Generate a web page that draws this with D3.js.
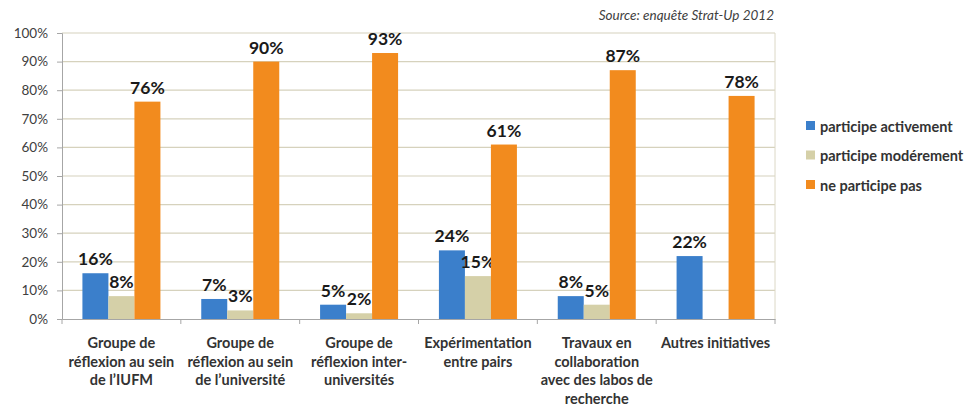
<!DOCTYPE html>
<html><head><meta charset="utf-8">
<script src="https://cdn.jsdelivr.net/npm/d3@7"></script>
<style>
body{margin:0;background:#fff;}
text{font-family:Lato,"Open Sans",sans-serif;}
</style></head>
<body><svg id="c" width="970" height="407"></svg>
<script>
const categories = [
  ["Groupe de","réflexion au sein","de l’IUFM"],
  ["Groupe de","réflexion au sein","de l’université"],
  ["Groupe de","réflexion inter-","universités"],
  ["Expérimentation","entre pairs"],
  ["Travaux en","collaboration","avec des labos de","recherche"],
  ["Autres initiatives"]
];
const seriesNames = ["participe activement","participe modérement","ne participe pas"];
const activement = [16, 7, 5, 24, 8, 22];
const moderement = [8, 3, 2, 15, 5, null];
const pasParticipe = [76, 90, 93, 61, 87, 78];
const yTicks = [0,10,20,30,40,50,60,70,80,90,100];
const colors = ["#3b7fcb","#d5d0a8","#f28b1e"];
const source = "Source: enquête Strat-Up 2012";

const series = [activement, moderement, pasParticipe];
const svg = d3.select("#c");
const m = {l:62, r:775, t:33, b:319};

const x = d3.scaleBand().domain(d3.range(categories.length)).range([m.l, m.r]).paddingInner(0).paddingOuter(0);
const bw = 26;
const x1 = d3.scaleBand().domain([0,1,2]).range([0, bw*3]);
const y = d3.scaleLinear().domain([0,100]).range([m.b, m.t]);

// gridlines
svg.append("g").selectAll("line").data(yTicks.filter(d=>d>0)).join("line")
  .attr("x1", m.l).attr("x2", m.r).attr("y1", d=>y(d)).attr("y2", d=>y(d))
  .attr("stroke", "#d6d2bd").attr("stroke-width", 1.2);
// right border
svg.append("line").attr("x1", m.r).attr("x2", m.r).attr("y1", y(100)).attr("y2", m.b)
  .attr("stroke", "#dcd8c6").attr("stroke-width", 1);

// y axis
const ya = svg.append("g").attr("transform", `translate(${m.l},0)`)
  .call(d3.axisLeft(y).tickValues(yTicks).tickFormat(d=>d+"%").tickSize(5).tickPadding(9));
ya.select(".domain").attr("stroke", "#a6a6a6");
ya.selectAll(".tick line").attr("stroke", "#a6a6a6");
ya.selectAll("text").attr("font-size", 13.5).attr("fill", "#404040").attr("font-family","Lato,sans-serif");

// x axis
const xa = svg.append("g").attr("transform", `translate(0,${m.b})`)
  .call(d3.axisBottom(x).tickValues([]).tickSizeOuter(0));
xa.select(".domain").attr("stroke", "#a6a6a6");
svg.append("g").selectAll("line").data(d3.range(categories.length+1)).join("line")
  .attr("x1", d=> d<categories.length ? x(d) : m.r).attr("x2", d=> d<categories.length ? x(d) : m.r)
  .attr("y1", m.b).attr("y2", m.b+5).attr("stroke", "#a6a6a6");

// bars
const off = (x.bandwidth() - bw*3)/2;
series.forEach((s, si) => {
  const g = svg.append("g");
  const data = s.map((v,i)=>({v,i})).filter(d=>d.v!==null);
  g.selectAll("rect").data(data).join("rect")
    .attr("x", d=>x(d.i)+off+x1(si)).attr("width", bw)
    .attr("y", d=>y(d.v)).attr("height", d=>m.b-y(d.v))
    .attr("fill", colors[si]);
  g.selectAll("text").data(data).join("text")
    .attr("x", d=>x(d.i)+off+x1(si)+bw/2).attr("y", d=>y(d.v)-8)
    .attr("text-anchor","middle").attr("font-size", 17.5).attr("font-weight", 700)
    .attr("fill", "#1a1a1a").text(d=>d.v+"%");
});

// category labels
const cl = svg.append("g");
categories.forEach((lines, i) => {
  const t = cl.append("text").attr("x", x(i)+x.bandwidth()/2).attr("y", m.b+29)
    .attr("text-anchor","middle").attr("font-size", 14.5).attr("font-weight", 700).attr("fill", "#333");
  lines.forEach((ln, k) => t.append("tspan").attr("x", x(i)+x.bandwidth()/2).attr("dy", k===0?0:18.7).text(ln));
});

// legend
const lg = svg.append("g").attr("transform", "translate(806,127)");
seriesNames.forEach((n, i) => {
  lg.append("rect").attr("x", 0).attr("y", i*29.5-6).attr("width", 9).attr("height", 9).attr("fill", colors[i]);
  lg.append("text").attr("x", 14).attr("y", i*29.5+4.5).attr("font-size", 14.5).attr("font-weight", 700)
    .attr("fill", "#333").text(n);
});

// source
svg.append("text").attr("x", 774).attr("y", 20).attr("text-anchor","end")
  .attr("font-size", 13.5).attr("font-style","italic").attr("fill", "#404040").text(source);
</script></body></html>
